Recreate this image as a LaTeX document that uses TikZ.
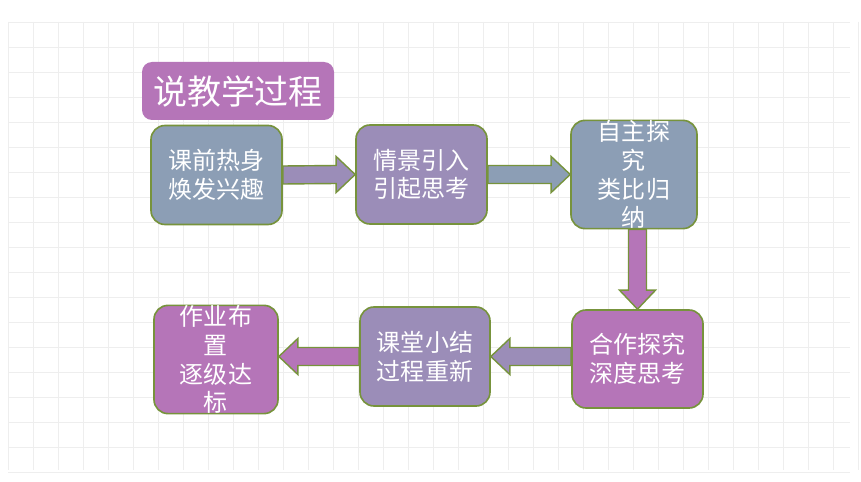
\documentclass[tikz,border=0pt]{standalone}
\usepackage{fontspec}
\setmainfont{Noto Sans CJK SC}
\usetikzlibrary{calc,positioning}
\definecolor{stepviolet}{RGB}{181,117,184}
\definecolor{steplav}{RGB}{155,141,184}
\definecolor{stepslate}{RGB}{140,158,181}
\definecolor{edgegreen}{RGB}{119,147,60}
\definecolor{gridgray}{RGB}{238,238,238}

\tikzset{
  stepbox/.style={draw=edgegreen, line width=1.4pt, rounded corners=0.42cm,
    minimum width=131*0.03cm, minimum height=99*0.03cm, inner sep=0pt,
    text=white, align=center, font=\fontsize{20.5}{24.5}\selectfont},
  blockarrow/.style={draw=edgegreen, line width=1.2pt, line join=miter},
  gridline/.style={gridgray, line width=0.6pt}
}

\begin{document}
\begin{tikzpicture}[x=0.03cm, y=-0.03cm]
\useasboundingbox (0,0) rectangle (861,482);
\fill[white] (0,0) rectangle (861,482);

% Background grid
\foreach \gx in {8,33,...,858} \draw[gridline] (\gx,22) -- (\gx,470);
\foreach \gy in {22,47,...,472} \draw[gridline] (8,\gy) -- (850,\gy);

% Title
\node[fill=stepviolet, rounded corners=0.3cm, minimum width=192*0.03cm, minimum height=58*0.03cm,
  text=white, font=\fontsize{29}{34}\selectfont] (title) at (238,91) {说教学过程};

% Top row
\node[stepbox, fill=stepslate] (warm) at (216.5,175) {课前热身\\焕发兴趣};
\node[stepbox, fill=steplav] (intro) at (421.5,174.5) {情景引入\\引起思考};
\node[stepbox, fill=stepslate, minimum width=126*0.03cm] (self) at (634,174.5) {自主探\\究\\类比归\\纳};

% Bottom row
\node[stepbox, fill=stepviolet, minimum height=98*0.03cm] (coop) at (637.5,359) {合作探究\\深度思考};
\node[stepbox, fill=steplav, minimum width=130*0.03cm] (summ) at (425,356.5) {课堂小结\\过程重新};
\node[stepbox, fill=stepviolet, minimum width=124*0.03cm] (work) at (216,359.5) {作业布\\置\\逐级达\\标};

% Block arrows
\draw[blockarrow, fill=steplav] ($(warm.east)+(0,-9)$) -- ($(intro.west)+(-19,-9)$) -- ($(intro.west)+(-19,-18)$)
  -- (intro.west) -- ($(intro.west)+(-19,18)$) -- ($(intro.west)+(-19,9)$) -- ($(warm.east)+(0,9)$) -- cycle;
\draw[blockarrow, fill=stepslate] ($(intro.east)+(0,-9)$) -- ($(self.west)+(-19,-9)$) -- ($(self.west)+(-19,-18)$)
  -- (self.west) -- ($(self.west)+(-19,18)$) -- ($(self.west)+(-19,9)$) -- ($(intro.east)+(0,9)$) -- cycle;
\draw[blockarrow, fill=stepviolet] ($(coop.north |- self.south)+(-9,0)$) -- ($(coop.north)+(-9,-19)$) -- ($(coop.north)+(-18,-19)$)
  -- (coop.north) -- ($(coop.north)+(18,-19)$) -- ($(coop.north)+(9,-19)$) -- ($(coop.north |- self.south)+(9,0)$) -- cycle;
\draw[blockarrow, fill=steplav] ($(coop.west |- summ.east)+(0,-9)$) -- ($(summ.east)+(19,-9)$) -- ($(summ.east)+(19,-18)$)
  -- (summ.east) -- ($(summ.east)+(19,18)$) -- ($(summ.east)+(19,9)$) -- ($(coop.west |- summ.east)+(0,9)$) -- cycle;
\draw[blockarrow, fill=stepviolet] ($(summ.west)+(0,-9)$) -- ($(work.east |- summ.west)+(19,-9)$) -- ($(work.east |- summ.west)+(19,-18)$)
  -- (work.east |- summ.west) -- ($(work.east |- summ.west)+(19,18)$) -- ($(work.east |- summ.west)+(19,9)$) -- ($(summ.west)+(0,9)$) -- cycle;
\end{tikzpicture}
\end{document}
